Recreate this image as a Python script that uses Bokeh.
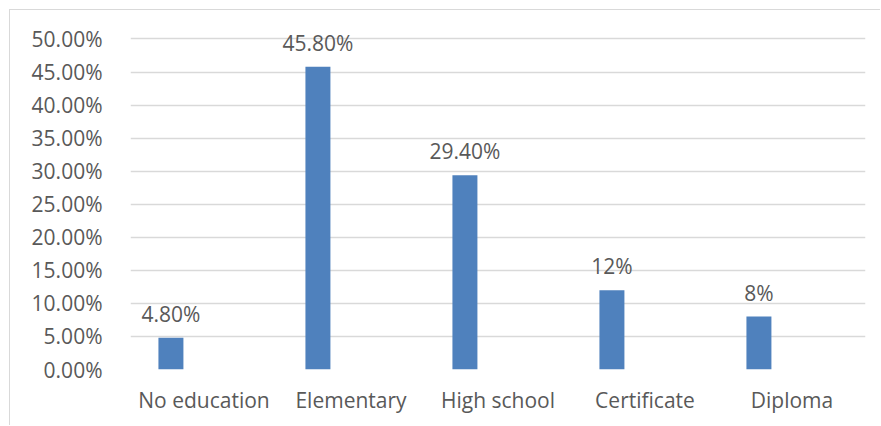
from bokeh.plotting import figure
from bokeh.models import ColumnDataSource, FixedTicker, NumeralTickFormatter, Range1d
from bokeh.core.properties import value
from bokeh.embed import file_html
from bokeh.resources import INLINE

categories = ["No education", "Elementary", "High school", "Certificate", "Diploma"]
shares = [0.048, 0.458, 0.294, 0.12, 0.08]
share_labels = ["4.80%", "45.80%", "29.40%", "12%", "8%"]
y_ticks = [0.0, 0.05, 0.10, 0.15, 0.20, 0.25, 0.30, 0.35, 0.40, 0.45, 0.50]

FONT = "Open Sans"
TXT = "#595959"
GRID = "#d9d9d9"
BAR = "#4f81bd"

centers = [i + 0.5 for i in range(len(categories))]
bar_x = [c - 0.225 for c in centers]
src = ColumnDataSource(dict(x=bar_x, top=shares, lab=share_labels))

p = figure(width=871, height=416, output_backend="svg", toolbar_location=None,
           x_range=Range1d(0, len(categories)), y_range=Range1d(0, 0.5295),
           min_border_left=120, min_border_right=16, min_border_top=9,
           min_border_bottom=57)
p.styles = {"margin-left": "9px", "margin-top": "9px",
            "border-left": "1px solid #d9d9d9", "border-top": "1px solid #d9d9d9"}

p.vbar(x="x", top="top", bottom=0, width=0.17, source=src, fill_color=BAR, line_color=None)
p.text(x="x", y="top", text="lab", source=src, text_align="center", text_baseline="middle",
       y_offset=-24, text_font=value(FONT), text_font_size="21px", text_color=TXT)

p.outline_line_color = None
p.xgrid.grid_line_color = None
p.ygrid.grid_line_color = GRID
p.ygrid.grid_line_width = 1.5

p.yaxis.ticker = FixedTicker(ticks=y_ticks)
p.yaxis.formatter = NumeralTickFormatter(format="0.00%")
p.xaxis.ticker = FixedTicker(ticks=centers)
p.xaxis.major_label_overrides = {c: n for c, n in zip(centers, categories)}

for ax in (p.xaxis[0], p.yaxis[0]):
    ax.axis_line_color = None
    ax.major_tick_line_color = None
    ax.minor_tick_line_color = None
    ax.major_label_text_font = FONT
    ax.major_label_text_font_size = "21px"
    ax.major_label_text_color = TXT
p.yaxis.major_label_standoff = 22
p.xaxis.major_label_standoff = 10

open("out.html", "w").write(file_html(p, INLINE))
